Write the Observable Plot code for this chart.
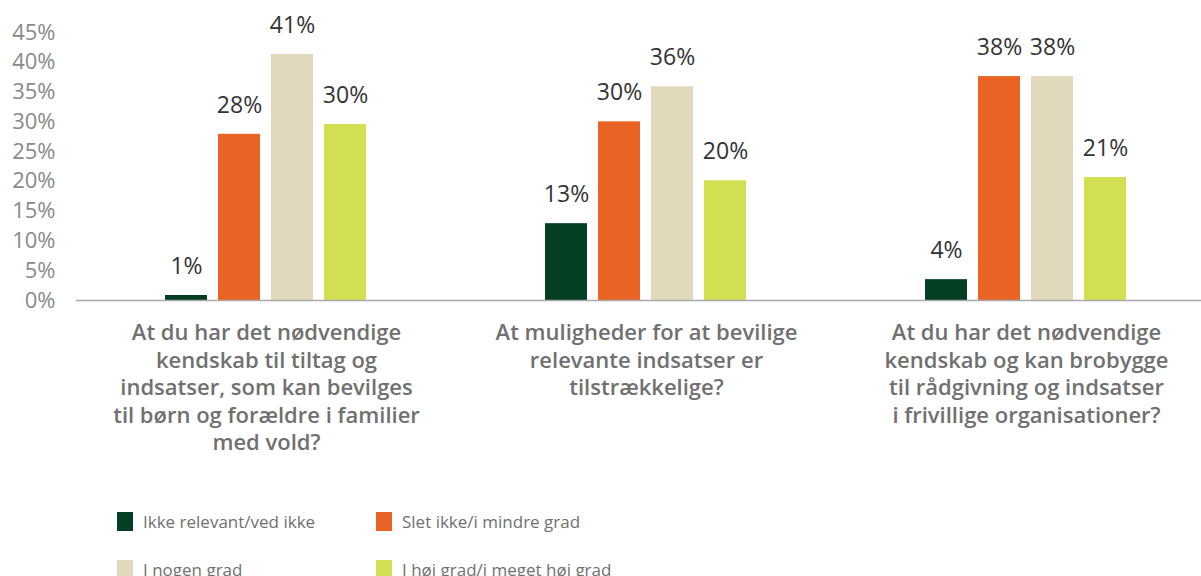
<!DOCTYPE html>
<html><head><meta charset="utf-8">
<script src="https://cdn.jsdelivr.net/npm/d3@7"></script>
<script src="https://cdn.jsdelivr.net/npm/@observablehq/plot@0.6"></script>
<style>
body{margin:0;background:#fff;font-family:"Open Sans",sans-serif;}
#legend{display:grid;grid-template-columns:259px 300px;padding-left:117px;margin-top:27px;}
.item{display:flex;align-items:center;height:48px;font-size:17px;color:#707070;}
.sw{width:16px;height:19px;margin-right:10px;flex:none;}
</style></head>
<body><div id="chart"></div><div id="legend"></div>
<script>
const groups = ["g1", "g2", "g3"];
const groupLabels = [
  "At du har det nødvendige\nkendskab til tiltag og\nindsatser, som kan bevilges\ntil børn og forældre i familier\nmed vold?",
  "At muligheder for at bevilige\nrelevante indsatser er\ntilstrækkelige?",
  "At du har det nødvendige\nkendskab og kan brobygge\ntil rådgivning og indsatser\ni frivillige organisationer?"
];
const series = ["Ikke relevant/ved ikke", "Slet ikke/i mindre grad", "I nogen grad", "I høj grad/i meget høj grad"];
const colors = ["#033f22", "#e96424", "#e2d9bd", "#d2df50"];
const ikkeRelevant = [0.84, 12.9, 3.5];
const sletIkke = [27.9, 30.0, 37.6];
const nogenGrad = [41.3, 35.9, 37.6];
const hoejGrad = [29.55, 20.1, 20.65];
const yTicks = [0, 5, 10, 15, 20, 25, 30, 35, 40, 45];

const seriesValues = [ikkeRelevant, sletIkke, nogenGrad, hoejGrad];
const data = [];
groups.forEach((g, gi) => series.forEach((s, si) => data.push({group: g, series: s, value: seriesValues[si][gi]})));
const labelOf = Object.fromEntries(groups.map((g, i) => [g, groupLabels[i]]));

const chart = Plot.plot({
  width: 1201,
  height: 470,
  marginTop: 32,
  marginBottom: 170,
  marginLeft: 78,
  marginRight: 0,
  style: {fontFamily: "Open Sans", background: "#fff"},
  fx: {domain: groups, range: [76, 1216], padding: 0, axis: null},
  x: {domain: series, paddingInner: 0.2, paddingOuter: 1.638, axis: null},
  y: {domain: [0, 45]},
  color: {domain: series, range: colors},
  marks: [
    Plot.axisY(yTicks, {tickSize: 0, tickPadding: 21, tickFormat: d => d + "%", fontSize: 22, fill: "#8a8a8a", label: null, anchor: "left", facetAnchor: "left"}),
    Plot.barY(data, {fx: "group", x: "series", y: "value", fill: "series"}),
    Plot.ruleY([0], {stroke: "#a9a9a9", strokeWidth: 1.5}),
    Plot.text(data, {fx: "group", x: "series", y: "value", text: d => Math.round(d.value) + "%", dy: -29, fontSize: 23, fill: "#333333"}),
    Plot.text(groups, {fx: d => d, text: d => labelOf[d], frameAnchor: "bottom", lineAnchor: "top", dy: 20, lineHeight: 1.25, fontSize: 22, fontWeight: 600, fill: "#707070", style: "letter-spacing:0.35px"})
  ]
});
document.getElementById("chart").append(chart);

const legend = document.getElementById("legend");
series.forEach((s, i) => {
  const it = document.createElement("div");
  it.className = "item";
  const sw = document.createElement("span");
  sw.className = "sw";
  sw.style.background = colors[i];
  const t = document.createElement("span");
  t.textContent = s;
  it.append(sw, t);
  legend.append(it);
});
</script>
</body></html>
